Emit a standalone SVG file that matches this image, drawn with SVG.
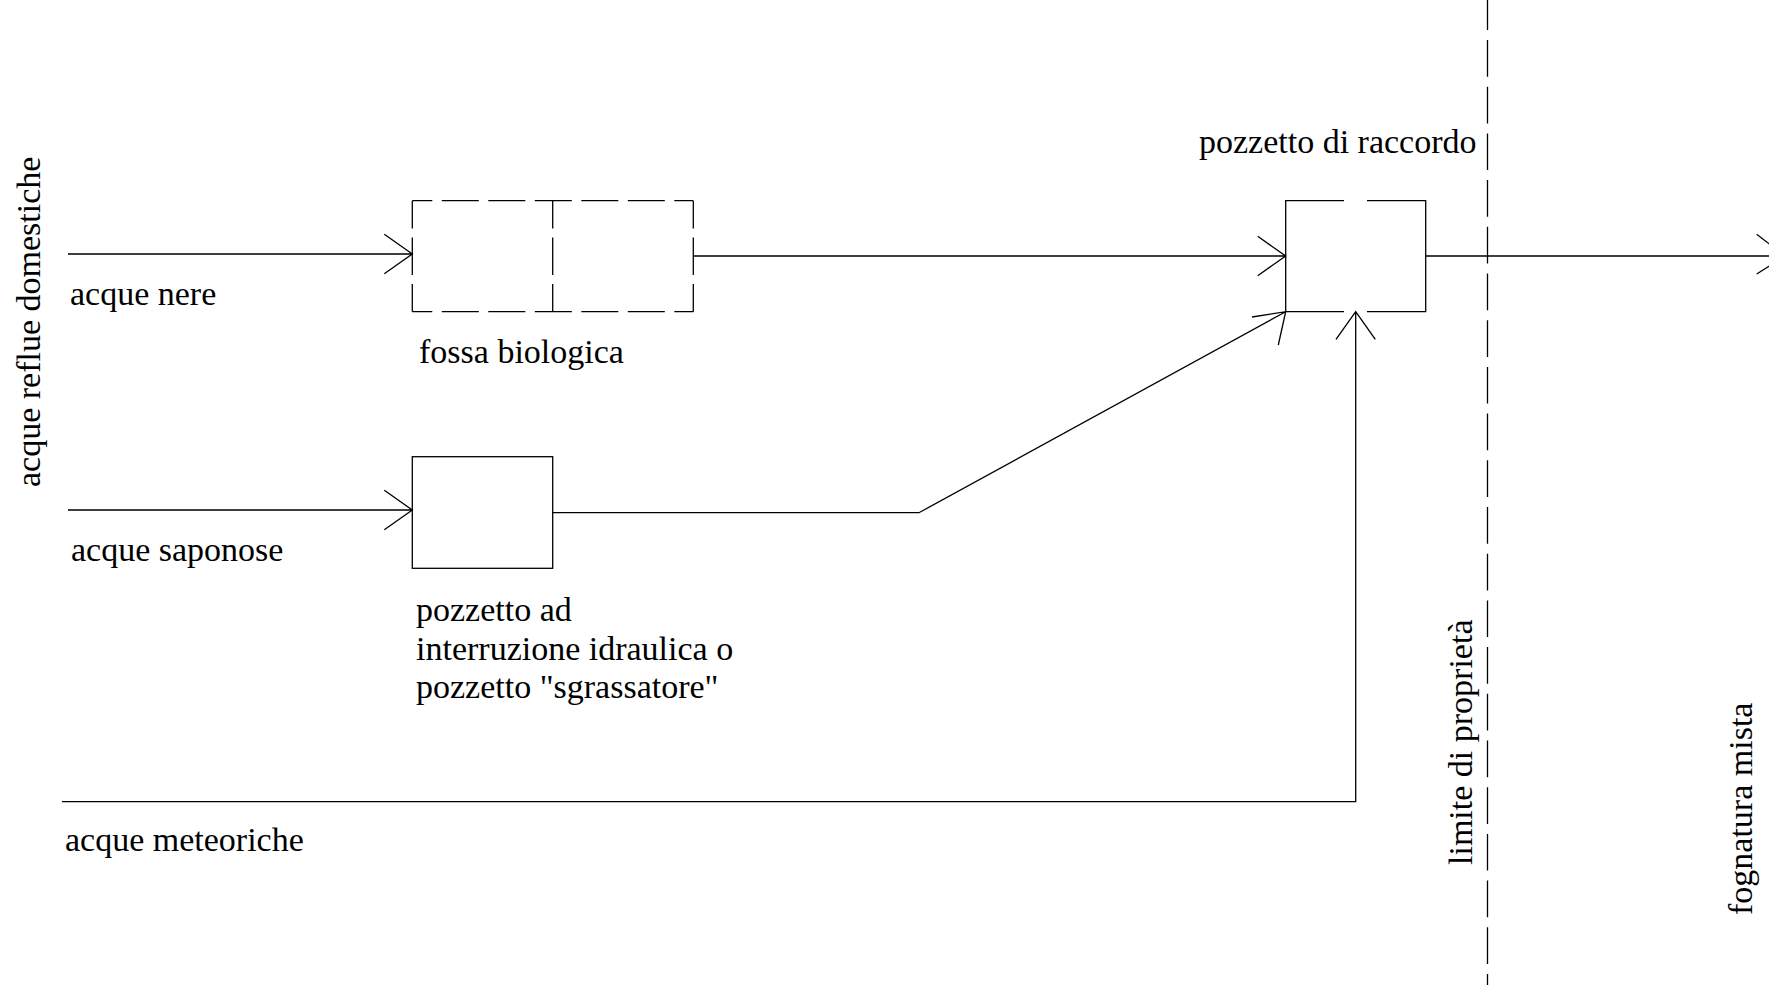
<svg xmlns="http://www.w3.org/2000/svg" width="1769" height="985" viewBox="0 0 1769 985">
<style>
text{font-family:"Liberation Serif","Times New Roman",serif;font-size:34px;fill:#000}
.ln{fill:none;stroke:#000;stroke-width:1.3}
.dv{fill:none;stroke:#000;stroke-width:1.3;stroke-dasharray:37.7 9;stroke-dashoffset:10}
.dh{fill:none;stroke:#000;stroke-width:1.3;stroke-dasharray:37 9.5;stroke-dashoffset:17}
</style>
<rect width="1769" height="985" fill="#fff"/>
<g id="boundary">
<line class="ln" x1="1487.5" y1="0" x2="1487.5" y2="985" style="stroke-dasharray:36.7 10;stroke-dashoffset:6.7"/>
<text transform="translate(1472,865) rotate(-90)">limite di proprietà</text>
</g>
<g id="fossa-biologica">
<line class="dh" x1="412.3" y1="200.7" x2="693.3" y2="200.7"/>
<line class="dh" x1="412.3" y1="311.7" x2="693.3" y2="311.7"/>
<line class="dv" x1="412.3" y1="200.7" x2="412.3" y2="311.7"/>
<line class="dv" x1="552.7" y1="200.7" x2="552.7" y2="311.7"/>
<line class="dv" x1="693.3" y1="200.7" x2="693.3" y2="311.7"/>
<text x="419" y="363">fossa biologica</text>
</g>
<g id="pozzetto-sgrassatore">
<rect class="ln" x="412.3" y="456.7" width="140.4" height="111.6"/>
<text x="416" y="621">pozzetto ad</text>
<text x="416" y="660">interruzione idraulica o</text>
<text x="416" y="698">pozzetto "sgrassatore"</text>
</g>
<g id="pozzetto-raccordo">
<path class="ln" d="M1344,200.7 H1285.7 V311.7 H1344 M1367,311.7 H1425.7 V200.7 H1367"/>
<text x="1199" y="153">pozzetto di raccordo</text>
</g>
<g id="labels">
<text transform="translate(40,487) rotate(-90)">acque reflue domestiche</text>
<text x="70" y="305">acque nere</text>
<text x="71" y="561">acque saponose</text>
<text x="65" y="851">acque meteoriche</text>
<text transform="translate(1752,915) rotate(-90)">fognatura mista</text>
</g>
<g id="connectors">
<path class="ln" d="M68,254 H412.3 M384.3,234.3 L412.3,254 L384.3,273.7"/>
<path class="ln" d="M693.3,256 H1285.7 M1257.7,236.3 L1285.7,256 L1257.7,275.7"/>
<path class="ln" d="M1425.7,256 H1769 M1756.7,234.3 L1785,256 L1756.7,274"/>
<path class="ln" d="M68,510 H412.3 M384.3,490.3 L412.3,510 L384.3,529.7"/>
<path class="ln" d="M552.7,512.7 H919 L1285.7,311.7 M1252,317 L1285.7,311.7 L1278.3,345"/>
<path class="ln" d="M62,801.7 H1355.7 V311.7 M1336,339.3 L1355.7,311.7 L1375.3,339.3"/>
</g>
</svg>
